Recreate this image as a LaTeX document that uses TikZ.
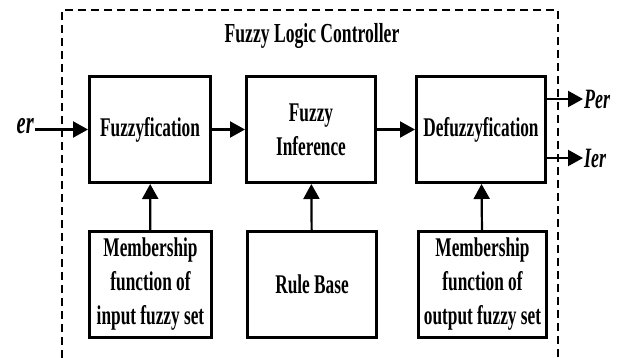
\documentclass[tikz,border=0pt]{standalone}
\usepackage{fontspec}
\setmainfont{Liberation Serif}[FakeStretch=0.64]
\usepackage{tikz}
\usetikzlibrary{arrows.meta}
\tikzset{
 block/.style={draw, line width=3pt, minimum height=106pt, align=center, inner sep=2pt,
   font=\fontsize{27}{34}\selectfont\bfseries},
 sig/.style={line width=2.2pt, -{Triangle[length=15pt,width=16pt]}},
 lab/.style={font=\fontsize{28}{34}\selectfont\bfseries\itshape, inner sep=1pt}
}

\begin{document}
\begin{tikzpicture}[x=1pt,y=-1pt]
\useasboundingbox (0,0) rectangle (624,358);
\draw[line width=1.3pt, dash pattern=on 8pt off 5pt] (62,358) |- (558,10) -- (558,358);
\node[font=\fontsize{27.5}{30}\selectfont\bfseries] (title) at (312,36) {Fuzzy Logic Controller};

\node[block, minimum width=121pt] (fuzz) at (150,129.5) {Fuzzyfication};
\node[block, minimum width=129pt] (infer) at (311,129.5) {Fuzzy\\Inference};
\node[block, minimum width=129pt] (defuzz) at (481,129.5) {Defuzzyfication};

\node[block, minimum width=122pt] (mfin) at (150.5,284.5) {Membership\\function of\\input fuzzy set};
\node[block, minimum width=129pt] (rule) at (312,284.5) {Rule Base};
\node[block, minimum width=128pt] (mfout) at (482.5,284.5) {Membership\\function of\\output fuzzy set};

\node[lab, font=\fontsize{32}{34}\selectfont\bfseries\itshape, anchor=east] (er) at (35,126) {er};
\node[lab, anchor=west] (per) at (583,99) {Per};
\node[lab, anchor=west] (ier) at (583,158) {Ier};

\draw[sig] (er.east |- fuzz) -- (fuzz);
\draw[sig] (fuzz) -- (infer);
\draw[sig] (infer) -- (defuzz);
\draw[sig] (defuzz.east |- per) -- (per);
\draw[sig] (defuzz.east |- ier) -- (ier);
\draw[sig] (mfin) -- (fuzz);
\draw[sig] (rule) -- (infer);
\draw[sig] (mfout) -- (defuzz);
\end{tikzpicture}
\end{document}
